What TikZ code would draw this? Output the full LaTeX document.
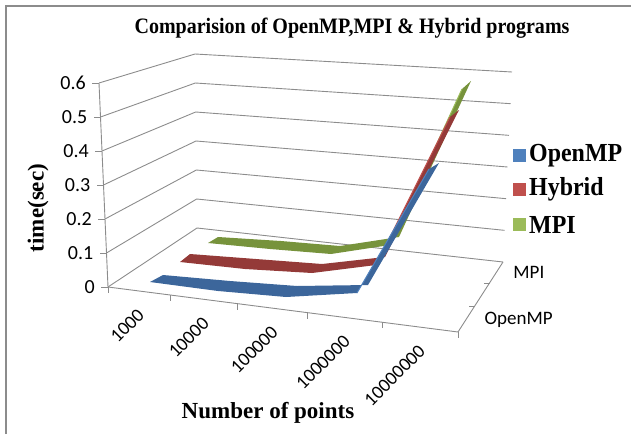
\documentclass[tikz,border=0pt]{standalone}
\usepackage{fontspec}
\setmainfont{Liberation Serif}
\newfontfamily\calib{Carlito}
\usetikzlibrary{positioning,calc}
\definecolor{gridgray}{HTML}{8C8C8C}
\definecolor{ompLeg}{HTML}{4F81BD}
\definecolor{hybLeg}{HTML}{C0504D}
\definecolor{mpiLeg}{HTML}{9BBB59}
\definecolor{ompRib}{HTML}{3C669B}
\definecolor{hybRib}{HTML}{943A38}
\definecolor{mpiRib}{HTML}{77933C}

\begin{document}
\begin{tikzpicture}[x=1pt,y=-1pt,
grid/.style={draw=gridgray,line width=0.9pt},
ylab/.style={font=\calib\fontsize{20}{20}\selectfont,inner sep=0pt},
xlab/.style={font=\calib\fontsize{19}{19}\selectfont,anchor=east,rotate=45,inner sep=0pt},
zlab/.style={font=\calib\fontsize{19}{19}\selectfont,anchor=west,inner sep=0pt},
ttl/.style={font=\bfseries\fontsize{#1}{#1}\selectfont,inner sep=0pt},
legbox/.style={minimum size=13pt,inner sep=0pt,outer sep=0pt},
legtext/.style={font=\bfseries\fontsize{26}{26}\selectfont,inner sep=0pt,anchor=west,xscale=0.92}
]
\useasboundingbox (0,0) rectangle (631,434);
\draw[gridgray,line width=1.6pt] (6,434) -- (6,6) -- (631,6);

% walls and floor
\coordinate (A0) at (108,287); \coordinate (A6) at (99,83);
\coordinate (L0) at (197,228); \coordinate (L6) at (195,54);
\coordinate (R0) at (503,262); \coordinate (R6) at (512,72);
\coordinate (F0) at (458,332);
\foreach \k/\t in {0/0,1/0.1,2/0.2,3/0.3,4/0.4,5/0.5,6/0.6}{
  \coordinate (A\k) at ($(A0)!\k/6!(A6)$);
  \coordinate (L\k) at ($(L0)!\k/6!(L6)$);
  \coordinate (R\k) at ($(R0)!\k/6!(R6)$);
  \draw[grid] (A\k) -- (L\k) -- (R\k);
  \draw[grid] (A\k) -- ++(-7,0) coordinate (T\k);
  \node[ylab] (Y\k) [left=6pt of T\k] {\t};
}
\draw[grid] (A6) -- (A0) -- (F0) -- (R0);

% category axis
\foreach \f [count=\i from 0] in {0,0.177,0.371,0.571,0.783,1}{
  \coordinate (X\i) at ($(A0)!\f!(F0)$);
  \draw[grid] (X\i) -- ++(0,6);
}
\foreach \i/\j/\t in {0/1/1000,1/2/10000,2/3/100000,3/4/1000000,4/5/10000000}
  \node[xlab] (C\i) at ($($(X\i)!0.5!(X\j)$)+(2,21)$) {\t};

% series axis
\coordinate (D1) at ($(F0)!0.37!(R0)$);
\coordinate (D2) at ($(F0)!0.70!(R0)$);
\draw[grid] (D1) -- ++(-6,0);
\draw[grid] (D2) -- ++(-6,0);
\node[zlab] (Zomp) at ($($(F0)!0.5!(D1)$)+(18,1)$) {OpenMP};
\node[zlab] (Zmpi) at ($($(D2)!0.5!(R0)$)+(17,0)$) {MPI};

% ribbons
\fill[mpiRib] (208,243) -- (270,249) -- (331,254) -- (390,245) -- (462,89)
  -- (471,81) -- (399,237) -- (340,246) -- (281,241) -- (218,237) -- cycle;
\draw[mpiLeg,line width=1pt] (390,245) -- (462,89);
\fill[hybRib] (180,262) -- (245,269) -- (312,273) -- (376,265) -- (450,117)
  -- (459,110) -- (385,257) -- (322,264) -- (256,259) -- (190,254) -- cycle;
\draw[hybLeg,line width=1pt] (376,265) -- (450,117);
\fill[ompRib] (150,282) -- (218,291) -- (286,297) -- (357,293) -- (429,169)
  -- (439,163) -- (368,285) -- (297,286) -- (230,281) -- (163,275) -- cycle;
\draw[ompLeg,line width=1pt] (357,293) -- (429,169);

% titles
\node[ttl=22,xscale=0.91] (title) at (352,28) {Comparision of OpenMP,MPI \& Hybrid programs};
\node[ttl=23,rotate=90] (ytitle) at (38,208) {time(sec)};
\node[ttl=23] (xtitle) at (268,413) {Number of points};

% legend
\node[legbox,fill=ompLeg] (Sopen) at (519.5,155.5) {};
\node[legtext] (Topen) [right=3pt of Sopen] {OpenMP};
\node[legbox,fill=hybLeg] (Shyb) [below=21pt of Sopen] {};
\node[legtext] (Thyb) [right=3pt of Shyb] {Hybrid};
\node[legbox,fill=mpiLeg] (Smpi) [below=22pt of Shyb] {};
\node[legtext] (Tmpi) [right=3pt of Smpi] {MPI};
\end{tikzpicture}
\end{document}
